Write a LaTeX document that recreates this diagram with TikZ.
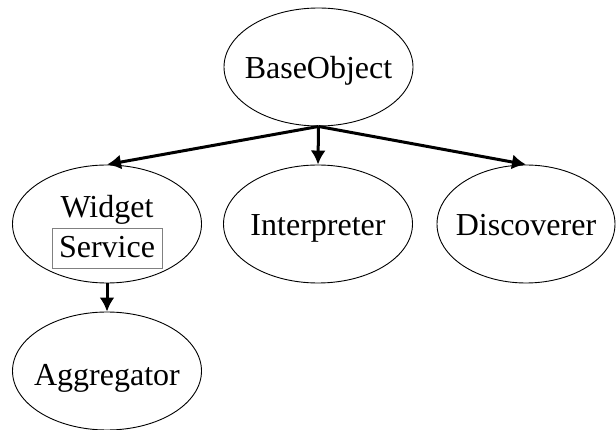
\documentclass[tikz,border=0pt]{standalone}
\usepackage{fontspec}
\setmainfont{Liberation Serif}
\usetikzlibrary{shapes.geometric,arrows.meta}
\begin{document}
\begin{tikzpicture}[x=1pt,y=-1pt,
  oval/.style={draw=black,line width=0.9pt,ellipse,inner sep=0pt,minimum width=189pt,minimum height=118pt},
  lbl/.style={font=\fontsize{32}{32}\selectfont,inner sep=0pt,anchor=base},
  link/.style={line width=3pt,-{Latex[length=14pt,width=15pt]}}]
\useasboundingbox (0,0) rectangle (616,430);
\node[oval] (base) at (318.5,67) {};
\node[lbl] (baset) at (318.5,79) {BaseObject};
\node[oval] (widget) at (107,224) {};
\node[lbl] (widgett) at (107,218) {Widget};
\node[draw=gray,line width=0.9pt,minimum width=110pt,minimum height=40pt,inner sep=0pt] (servbox) at (107,248) {};
\node[lbl] (service) at (107,258) {Service};
\node[oval] (interp) at (318,224) {};
\node[lbl] (interpt) at (318,236) {Interpreter};
\node[oval,minimum width=178pt] (disc) at (526,224) {};
\node[lbl] (disct) at (526,236) {Discoverer};
\node[oval] (aggr) at (107,371) {};
\node[lbl] (aggrt) at (107,385) {Aggregator};
\draw[link] (base.south) -- (widget.north);
\draw[link] (base.south) -- (interp.north);
\draw[link] (base.south) -- (disc.north);
\draw[link] (widget.south) -- (aggr.north);
\end{tikzpicture}
\end{document}
